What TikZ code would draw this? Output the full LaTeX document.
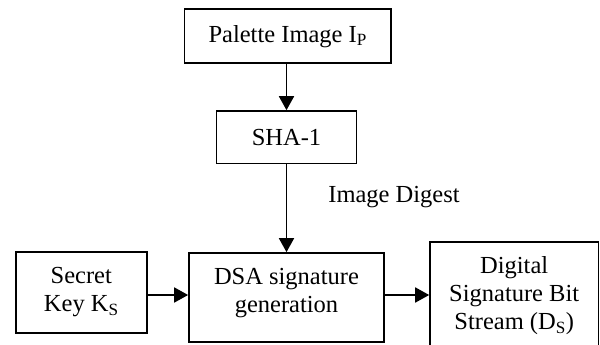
\documentclass[tikz,border=0pt]{standalone}
\usepackage{fontspec}
\setmainfont{Liberation Serif}
\usetikzlibrary{arrows.meta}
\begin{document}
\begin{tikzpicture}[x=1pt,y=-1pt,
  box/.style={draw,line width=1.7pt,inner sep=0pt,align=center,font=\fontsize{24.5}{28}\selectfont},
  arr/.style={line width=1.7pt,-{Triangle[length=14pt,width=15pt]}},
  lbl/.style={font=\fontsize{24.5}{28}\selectfont}]
\useasboundingbox (0,0) rectangle (600,345);
\node[box,minimum width=206.7pt,minimum height=54pt] (pal) at (287.7,36.3) {Palette Image I\textsubscript{P}};
\node[box,minimum width=140pt,minimum height=52.3pt] (sha) at (286.5,137.2) {SHA-1};
\node[box,minimum width=195pt,minimum height=89pt] (dsa) at (286.5,297.5) {};
\node[font=\fontsize{24.5}{28}\selectfont,align=center,inner sep=0pt] (dsa-txt) at (286.5,293) {DSA signature\\generation};
\node[box,minimum width=130.7pt,minimum height=80.7pt] (sec) at (81.3,292.3) {Secret\\Key K\textsubscript{S}};
\node[box,minimum width=168.3pt,minimum height=107pt] (dig) at (514.2,295.5) {Digital\\Signature Bit\\Stream (D\textsubscript{S})};
\node[lbl] (dig-lbl) at (394,197) {Image Digest};
\draw[arr] (pal.south -| sha.north) -- (sha.north);
\draw[arr] (sha.south) -- (sha.south |- dsa.north);
\draw[arr] (sec.east |- 0,295) -- (dsa.west |- 0,295);
\draw[arr] (dsa.east |- 0,295) -- (dig.west |- 0,295);
\end{tikzpicture}
\end{document}
